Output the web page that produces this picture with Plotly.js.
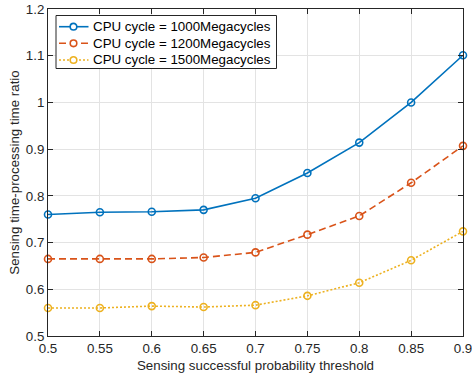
<!DOCTYPE html>
<html><head><meta charset="utf-8">
<script src="https://cdn.plot.ly/plotly-3.0.1.min.js"></script>
<style>html,body{margin:0;padding:0;background:#fff}#chart{width:472px;height:379px}</style>
</head><body><div id="chart"></div>
<script>
const thresholds = [0.5, 0.55, 0.6, 0.65, 0.7, 0.75, 0.8, 0.85, 0.9];
const cycle1000 = [0.760, 0.765, 0.766, 0.770, 0.795, 0.849, 0.914, 1.000, 1.101];
const cycle1200 = [0.665, 0.665, 0.665, 0.668, 0.679, 0.717, 0.757, 0.828, 0.907];
const cycle1500 = [0.560, 0.560, 0.564, 0.562, 0.566, 0.586, 0.614, 0.662, 0.724];
const seriesNames = ["CPU cycle = 1000Megacycles", "CPU cycle = 1200Megacycles", "CPU cycle = 1500Megacycles"];

const FONT = "Liberation Sans, Arial, sans-serif";
const FS = 13.33;
const colors = ["#0072BD", "#D95319", "#EDB120"];
const dashes = ["solid", "7px,4px", "2px,2px"];
const ys = [cycle1000, cycle1200, cycle1500];
const traces = ys.map((y, i) => ({
  x: thresholds, y: y, name: seriesNames[i], type: "scatter", mode: "lines+markers",
  showlegend: false, cliponaxis: false,
  line: {color: colors[i], width: 1.6, dash: dashes[i]},
  marker: {symbol: "circle-open", size: 7, color: colors[i], line: {width: 1.6, color: colors[i]}}
}));

// plot area in pixels
const W = 472, H = 379, L = 48, R = 9, T = 9, B = 43;
const pw = W - L - R, ph = H - T - B;
const px = v => (v - L) / pw;
const py = v => (H - B - v) / ph;

// custom legend (box, samples, labels)
const shapes = [{type: "rect", xref: "paper", yref: "paper",
  x0: px(56), x1: px(276.5), y0: py(68.5), y1: py(15.5),
  fillcolor: "#fff", line: {color: "#262626", width: 1}, layer: "above"}];
const annotations = [];
const rowY = [26.7, 43.3, 60];
seriesNames.forEach((name, i) => {
  shapes.push({type: "line", xref: "paper", yref: "paper", layer: "above",
    x0: px(59), x1: px(88.5), y0: py(rowY[i]), y1: py(rowY[i]),
    line: {color: colors[i], width: 1.6, dash: dashes[i]}});
  shapes.push({type: "circle", xref: "paper", yref: "paper", layer: "above",
    xsizemode: "pixel", ysizemode: "pixel", xanchor: px(73.5), yanchor: py(rowY[i]),
    x0: -3.3, x1: 3.3, y0: -3.3, y1: 3.3,
    fillcolor: "#fff", line: {color: colors[i], width: 1.6}});
  annotations.push({xref: "paper", yref: "paper", x: px(91), y: py(rowY[i]),
    xanchor: "left", yanchor: "middle", showarrow: false, text: name,
    font: {family: FONT, size: FS, color: "#000"}});
});

const axisCommon = {
  showline: true, linecolor: "#262626", linewidth: 1, mirror: "ticks",
  ticks: "inside", ticklen: 5, tickcolor: "#262626",
  showgrid: true, gridcolor: "#e3e3e3", gridwidth: 1, zeroline: false,
  ticklabeloverflow: "allow",
  tickfont: {family: FONT, size: FS, color: "#262626"}
};
const layout = {
  width: W, height: H,
  margin: {l: L, r: R, t: T, b: B},
  paper_bgcolor: "#fff", plot_bgcolor: "#fff",
  showlegend: false,
  shapes: shapes, annotations: annotations,
  xaxis: Object.assign({}, axisCommon, {range: [0.5, 0.9], dtick: 0.05, tick0: 0.5,
    title: {text: "Sensing successful probability threshold", standoff: 5,
      font: {family: FONT, size: FS, color: "#262626"}}}),
  yaxis: Object.assign({}, axisCommon, {range: [0.5, 1.2], dtick: 0.1, tick0: 0.5,
    title: {text: "Sensing time-processing time ratio", standoff: 3,
      font: {family: FONT, size: FS, color: "#262626"}}})
};
Plotly.newPlot("chart", traces, layout, {staticPlot: true, displayModeBar: false});
</script></body></html>
